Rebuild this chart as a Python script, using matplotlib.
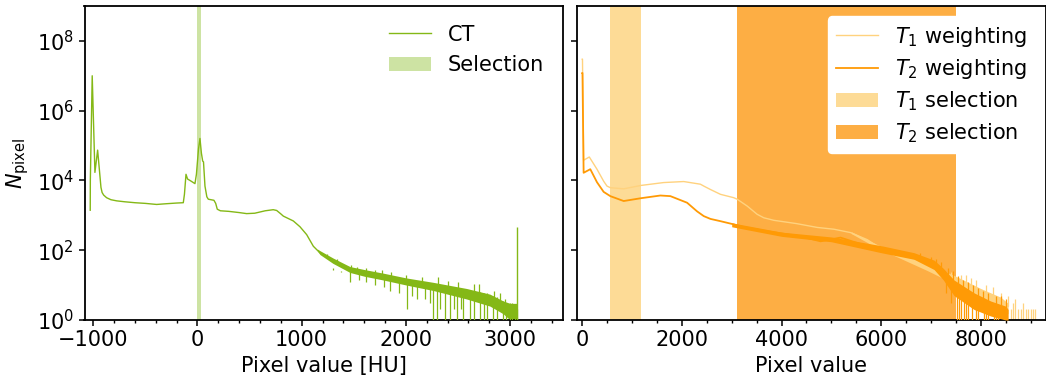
import matplotlib
matplotlib.use("Agg")
import matplotlib.pyplot as plt
from matplotlib.ticker import MultipleLocator, NullLocator, FixedLocator

# ---------------- CT histogram (left panel) ----------------
ct_x = [-1029, -1028, -1010, -984, -958, -926, -915, -900, -872, -830, -775, -700,
        -600, -500, -392, -300, -200, -136, -125, -110, -95, -60, -24, -10, 10, 24,
        38, 50, 58, 72, 90, 104, 158, 175, 190, 220, 300, 400, 472, 550, 650, 727,
        760, 800, 824, 920, 984, 1048, 1112, 1150, 1176, 1300, 1464, 1600, 1783, 2007,
        2263, 2583, 2807, 2935, 3000, 3060]
ct_n = [1.4e3, 1.0e4, 1.0e7, 1.7e4, 7.4e4, 6.3e3, 4.5e3, 3.8e3, 3.2e3, 2.8e3, 2.6e3, 2.45e3,
        2.3e3, 2.2e3, 2.05e3, 2.15e3, 2.25e3, 2.3e3, 4.0e3, 1.5e4, 1.1e4, 9.5e3, 8.1e3, 1.5e4, 8e4, 1.6e5,
        6e4, 3.6e4, 3.4e4, 6.9e3, 3.4e3, 2.9e3, 2.7e3, 2.2e3, 1.5e3, 1.35e3, 1.3e3, 1.2e3, 1.12e3, 1.15e3, 1.35e3, 1.45e3,
        1.38e3, 1.1e3, 9.5e2, 6.9e2, 4.7e2, 2.8e2, 1.3e2, 1.0e2, 85, 50, 28, 23, 18, 13,
        9.3, 6, 3.9, 2.5, 2.0, 1.6]
# dense noise core of the CT tail
ct_core_x = [1150, 1176, 1300, 1464, 1600, 1783, 2007, 2263, 2583, 2807, 2935, 3000, 3070]
ct_core_hi = [108, 97, 60, 34, 28, 22, 16, 12, 8, 5.5, 3.5, 3, 3]
ct_core_lo = [95, 75, 42, 23, 18, 14, 10, 7, 4, 2.5, 1.5, 1, 1]
# single noisy bins: downward excursions (top -> low) and upward excursions (base -> high)
ct_dn_x = [1300, 1380, 1464, 1550, 1620, 1700, 1790, 1850, 1930, 2007, 2060, 2107, 2180, 2230,
           2263, 2295, 2330, 2375, 2423, 2460, 2494, 2530, 2551, 2615, 2650, 2711, 2750, 2781,
           2839, 2870, 2935, 2960, 2999, 3020, 3047, 3065]
ct_dn_top = [28, 24, 28, 24, 22, 18, 18, 15, 14, 13, 12, 11, 11, 10,
             9.5, 9.3, 9, 8.5, 8.3, 8, 7.8, 7.5, 7.3, 7, 6.8, 6.2, 6, 5.8,
             5, 4.5, 3.5, 3, 3, 2.5, 2.5, 2]
ct_dn_lo = [30, 25, 12, 14, 12, 10, 9, 7, 6, 2, 5, 4, 4, 3,
            1, 1, 2, 1, 1, 2, 1, 2, 1, 1, 1, 1, 1, 1,
            1, 1, 1, 1, 1, 1, 1, 1]
ct_up_x = [1240, 1340, 1470, 1530, 1620, 1700, 1770, 1860, 2000, 2150, 2311, 2400, 2500,
           2650, 2700, 2850, 2900, 2950, 3020]
ct_up_base = [70, 45, 28, 25, 22, 20, 19, 17, 13, 11, 9, 8, 7,
              6, 5.5, 3.5, 3, 2, 1.5]
ct_up_hi = [80, 55, 38, 33, 30, 28, 28, 24, 19, 17, 17, 13, 12,
            11, 11, 7, 6, 4, 3]
ct_peak_x = [3071]
ct_peak_n = [450]
ct_selection = (-5, 35)

# ---------------- MR histograms (right panel) ----------------
t1_x = [0, 4, 27, 141, 295, 429, 496, 563, 831, 1180, 1635, 2037, 2372, 2439, 2573, 2774, 3042,
        3109, 3310, 3511, 3645, 3846, 4300, 4717, 5052, 5387, 5723, 5923, 6392, 6929, 7464, 8000, 8402, 8550]
t1_n = [3e7, 3e7, 3.8e4, 4.7e4, 2.1e4, 9.5e3, 6.9e3, 6.2e3, 5.75e3, 7.2e3, 8.7e3, 9.3e3, 7.8e3, 6.9e3, 5.5e3, 4.0e3, 3.2e3,
        2.9e3, 1.85e3, 1.07e3, 8.5e2, 7.2e2, 5.8e2, 4.5e2, 4.0e2, 3.2e2, 2.0e2, 1.3e2, 68, 32, 14.5, 6, 3.2, 2.5]
t1_core_x = [5400, 5923, 6392, 6929, 7464, 8000, 8402, 8550]
t1_core_hi = [340, 145, 80, 40, 19, 8, 4.5, 3]
t1_core_lo = [300, 115, 58, 26, 11, 4.5, 2, 1.5]
t1_up_x = [6600, 7000, 7200, 7400, 7600, 7700, 7800, 7900, 8100, 8250, 8400, 8550, 8600,
           8650, 8692, 8750, 8800, 8850, 8900, 8950, 9000, 9050, 9080]
t1_up_base = [60, 30, 25, 16, 12, 10, 8, 7, 5, 4, 3, 2.5, 1,
              1, 1, 1, 1, 1, 1, 1, 1, 1, 1]
t1_up_hi = [65, 40, 32, 24, 20, 20, 16, 14, 10, 9, 6, 5, 2,
            3, 4, 2, 2, 3, 2, 2, 2, 2, 2]

t2_x = [0, 4, 27, 161, 295, 429, 563, 831, 1180, 1568, 1769, 2104, 2305, 2439, 2573, 2774, 3042, 3243,
        3712, 4382, 4784, 5186, 5588, 6124, 6660, 7062, 7250, 7464, 7866, 8200, 8500]
t2_n = [1.2e7, 1.2e7, 1.66e4, 2.1e4, 8.9e3, 4.7e3, 3.55e3, 2.57e3, 3.1e3, 3.7e3, 3.55e3, 2.3e3, 1.3e3, 9.5e2, 7.9e2, 6.8e2, 5.5e2, 4.6e2,
        3.5e2, 2.5e2, 1.8e2, 2.3e2, 1.5e2, 1.05e2, 68, 39, 22, 9.3, 3.9, 2.5, 1.5]
t2_core_x = [3000, 4000, 5000, 6000, 6660, 7062, 7250, 7464, 7866, 8200, 8500, 8550]
t2_core_hi = [610, 330, 240, 135, 85, 52, 30, 14, 6, 3.5, 2.5, 2]
t2_core_lo = [470, 250, 175, 85, 55, 28, 14, 5, 2, 1.3, 1, 1]
t2_up_x = [6784, 7000, 7100, 7200, 7350, 7450, 7550, 7650, 7750, 7850, 7950, 8050, 8150,
           8300, 8400, 8500]
t2_up_base = [70, 45, 38, 30, 18, 12, 8, 6, 4, 3, 3, 2.5, 2, 1.5, 1.3, 1.1]
t2_up_hi = [85, 65, 55, 45, 30, 25, 18, 14, 12, 10, 8, 7, 6, 5, 5, 4]
t2_dn_x = [7300, 7400, 7525, 7560, 7600, 7659, 7700, 7750, 7827, 7900, 7950, 8060, 8100,
           8150, 8261, 8300, 8350, 8462, 8500]
t2_dn_top = [18, 12, 8, 8, 7, 6, 5, 5, 4, 3.5, 3.5, 3, 3, 3, 2.5, 2.5, 2.2, 2, 2]
t2_dn_lo = [6, 3, 1, 1, 1, 1, 1, 1, 1, 1, 1, 1, 1, 1, 1, 1, 1, 1, 1]
t1_selection = (563, 1180)
t2_selection = (3110, 7512)

# ---------------- styling ----------------
c_ct = "#84b816"
c_ct_sel = "#cde3a3"
c_t1 = "#ffd27e"
c_t1_sel = "#fddb96"
c_t2 = "#ff9a05"
c_t2_sel = "#fdae44"

plt.rcParams["font.size"] = 15
plt.rcParams["font.family"] = ["DejaVu Sans"]

W, H = 1046, 379
fig = plt.figure(figsize=(W / 100, H / 100), dpi=100)
ax1 = fig.add_axes([84.5 / W, 59 / H, (562.7 - 84.5) / W, (373 - 59) / H])
ax2 = fig.add_axes([577.3 / W, 59 / H, (1045.5 - 577.3) / W, (373 - 59) / H], sharey=ax1)

# left panel
ax1.axvspan(*ct_selection, color=c_ct_sel, lw=0, label="Selection", zorder=1)
ax1.fill_between(ct_core_x, ct_core_lo, ct_core_hi, color=c_ct, lw=0, zorder=2)
ax1.plot(ct_x, ct_n, color=c_ct, lw=1, label="CT", zorder=3)
ax1.vlines(ct_dn_x, ct_dn_lo, ct_dn_top, color=c_ct, lw=0.9, zorder=3)
ax1.vlines(ct_up_x, ct_up_base, ct_up_hi, color=c_ct, lw=0.9, zorder=3)
ax1.vlines(ct_peak_x, 1, ct_peak_n, color=c_ct, lw=1, zorder=3)
ax1.set_yscale("log")
ax1.set_ylim(1, 1e9)
ax1.set_xlim(-1084, 3505)
ax1.xaxis.set_major_locator(MultipleLocator(1000))
ax1.xaxis.set_minor_locator(MultipleLocator(200))
ax1.set_xlabel("Pixel value [HU]")
ax1.set_ylabel(r"$N_{\mathrm{pixel}}$")
h, l = ax1.get_legend_handles_labels()
order = [l.index("CT"), l.index("Selection")]
ax1.legend([h[i] for i in order], [l[i] for i in order], loc="upper right",
           frameon=False, fontsize=15)

# right panel
ax2.axvspan(*t1_selection, color=c_t1_sel, lw=0, label=r"$T_1$ selection", zorder=1)
ax2.axvspan(*t2_selection, color=c_t2_sel, lw=0, label=r"$T_2$ selection", zorder=1)
ax2.fill_between(t1_core_x, t1_core_lo, t1_core_hi, color=c_t1, lw=0, zorder=2)
ax2.plot(t1_x, t1_n, color=c_t1, lw=1.0, label=r"$T_1$ weighting", zorder=2)
ax2.vlines(t1_up_x, t1_up_base, t1_up_hi, color=c_t1, lw=0.9, zorder=2)
ax2.fill_between(t2_core_x, t2_core_lo, t2_core_hi, color=c_t2, lw=0, zorder=3)
ax2.plot(t2_x, t2_n, color=c_t2, lw=1.3, label=r"$T_2$ weighting", zorder=3)
ax2.vlines(t2_up_x, t2_up_base, t2_up_hi, color=c_t2, lw=0.9, zorder=3)
ax2.vlines(t2_dn_x, t2_dn_lo, t2_dn_top, color=c_t2, lw=0.9, zorder=3)
ax2.set_xlim(-100, 9300)
ax2.xaxis.set_major_locator(MultipleLocator(2000))
ax2.xaxis.set_minor_locator(MultipleLocator(500))
ax2.set_xlabel("Pixel value")
ax2.tick_params(labelleft=False)
h, l = ax2.get_legend_handles_labels()
names = [r"$T_1$ weighting", r"$T_2$ weighting", r"$T_1$ selection", r"$T_2$ selection"]
ax2.legend([h[l.index(n)] for n in names], names, loc="upper right",
           fontsize=15, framealpha=1, edgecolor="white", fancybox=True,
           labelspacing=0.4)

for ax in (ax1, ax2):
    ax.yaxis.set_major_locator(FixedLocator([1, 1e2, 1e4, 1e6, 1e8]))
    ax.yaxis.set_minor_locator(NullLocator())
    for s in ax.spines.values():
        s.set_linewidth(1.3)
    ax.tick_params(which="major", length=4, width=1.1)
    ax.tick_params(which="minor", length=2.5, width=1.0)

fig.savefig("out.png", dpi=100)
